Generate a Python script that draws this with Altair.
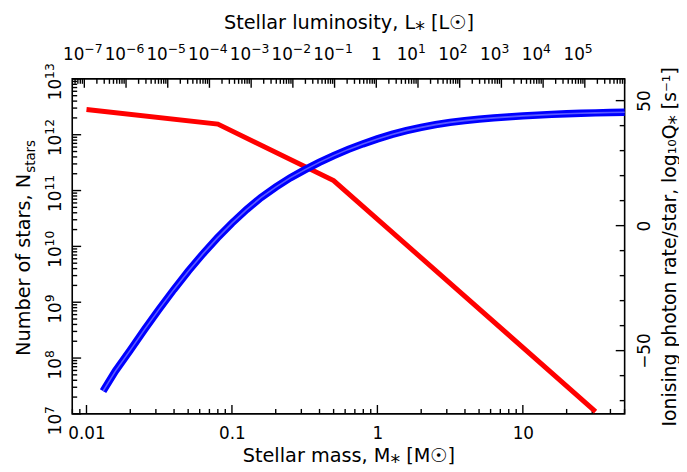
import math
import altair as alt
import pandas as pd

# ---------------- data ----------------
imf_mass = [0.01, 0.08, 0.5, 31.6]
imf_nstars = [2.82e12, 1.55e12, 1.51e11, 1.1e7]

q_mass = [0.013, 0.0158, 0.02, 0.0251, 0.0316, 0.0398, 0.0501, 0.0631, 0.0794,
          0.1, 0.126, 0.158, 0.2, 0.251, 0.316, 0.398, 0.501, 0.631, 0.794,
          1.0, 1.26, 1.58, 2.0, 2.51, 3.16, 3.98, 5.01, 6.31, 7.94,
          10.0, 12.6, 15.8, 20.0, 25.1, 31.6, 39.8, 50.1]
q_logq = [-66.2, -58.2, -49.8, -41.5, -33.4, -25.6, -18.2, -11.3, -4.9,
          1.0, 6.4, 11.2, 15.4, 19.1, 22.3, 25.3, 28.0, 30.5, 32.7,
          34.7, 36.5, 38.0, 39.3, 40.4, 41.3, 42.0, 42.6, 43.1, 43.5,
          43.9, 44.2, 44.5, 44.75, 44.95, 45.1, 45.25, 45.35]

mass_major = [0.01, 0.1, 1, 10]
nstar_exponents = [7, 8, 9, 10, 11, 12, 13]
lum_exponents = [-7, -6, -5, -4, -3, -2, -1, 0, 1, 2, 3, 4, 5]
q_major = [-50, 0, 50]
q_minor = [-70, -60, -40, -30, -20, -10, 10, 20, 30, 40]

left_title = ["Number of stars, N", "stars"]

M_DOMAIN = [0.00798, 50.1]
N_DOMAIN = [1e7, 1e13]
Q_DOMAIN = [-75.3, 58.7]
L_DOMAIN = [10 ** -7.29, 10 ** 5.955]

W, H = 559, 339
MAJ, MIN = 9, 5
FONT = "DejaVu Sans"
LFS = 17
EFS = 12.5
TFS = 19.5


def minors(lo, hi):
    out = []
    e = -9
    while 10 ** e <= hi:
        for k in range(2, 10):
            v = k * 10 ** e
            if lo < v < hi:
                out.append(v)
        e += 1
    return out


m_scale = alt.Scale(type="log", domain=M_DOMAIN, nice=False)
n_scale = alt.Scale(type="log", domain=N_DOMAIN, nice=False)
q_scale = alt.Scale(type="linear", domain=Q_DOMAIN, nice=False, zero=False)
l_scale = alt.Scale(type="log", domain=L_DOMAIN, nice=False)

ax_common = dict(domain=False, grid=False, ticks=False, labelFont=FONT,
                 labelFontSize=LFS, labelColor="black", titleFont=FONT,
                 titleFontSize=TFS, titleFontWeight="normal", titleColor="black")

red = alt.Chart(pd.DataFrame({"m": imf_mass, "n": imf_nstars})).mark_line(
    color="#ff0000", strokeWidth=5
).encode(
    x=alt.X("m:Q", scale=m_scale, axis=None),
    y=alt.Y("n:Q", scale=n_scale, axis=None),
)

qdf = pd.DataFrame({"m": q_mass, "q": q_logq})
blue = alt.Chart(qdf).mark_line(color="#0000ff", strokeWidth=7.5).encode(
    x=alt.X("m:Q", scale=m_scale, axis=None),
    y=alt.Y("q:Q", scale=q_scale, axis=None),
)
blue_in = alt.Chart(qdf).mark_line(color="#5a5aff", strokeWidth=1.6).encode(
    x=alt.X("m:Q", scale=m_scale, axis=None),
    y=alt.Y("q:Q", scale=q_scale, axis=None),
)

# pixel lengths expressed in each scale's data units (for inward tick segments)
LOG_M = math.log10(M_DOMAIN[1] / M_DOMAIN[0])
LOG_N = math.log10(N_DOMAIN[1] / N_DOMAIN[0])


def n_from_bottom(px):
    return N_DOMAIN[0] * 10 ** (px * LOG_N / H)


def n_from_top(px):
    return N_DOMAIN[1] * 10 ** (-px * LOG_N / H)


def m_from_left(px):
    return M_DOMAIN[0] * 10 ** (px * LOG_M / W)


def m_from_right(px):
    return M_DOMAIN[1] * 10 ** (-px * LOG_M / W)


def seg_layer(rows, xscale, yscale, xaxis=None, yaxis=None):
    df = pd.DataFrame(rows, columns=["id", "a", "b"])
    return alt.Chart(df).mark_line(color="#000000", strokeWidth=1.4).encode(
        x=alt.X("a:Q", scale=xscale, axis=xaxis),
        y=alt.Y("b:Q", scale=yscale, axis=yaxis),
        detail="id:N",
    )


def bottom_ticks(values, length, axis=None):
    rows = []
    for i, v in enumerate(values):
        rows += [(i, v, N_DOMAIN[0]), (i, v, n_from_bottom(length))]
    return seg_layer(rows, m_scale, n_scale, xaxis=axis)


def top_ticks(values, length, axis=None):
    rows = []
    for i, v in enumerate(values):
        rows += [(i, v, N_DOMAIN[1]), (i, v, n_from_top(length))]
    return seg_layer(rows, l_scale, n_scale, xaxis=axis)


def left_ticks(values, length):
    rows = []
    for i, v in enumerate(values):
        rows += [(i, M_DOMAIN[0], v), (i, m_from_left(length), v)]
    return seg_layer(rows, m_scale, n_scale)


def right_ticks(values, length, axis=None):
    rows = []
    for i, v in enumerate(values):
        rows += [(i, m_from_right(length), v), (i, M_DOMAIN[1], v)]
    return seg_layer(rows, m_scale, q_scale, yaxis=axis)


bot_major = bottom_ticks(mass_major, MAJ, alt.Axis(
    orient="bottom", values=mass_major, labelPadding=12,
    labelExpr="datum.value < 0.05 ? '0.01' : datum.value < 0.5 ? '0.1' : datum.value < 5 ? '1' : '10'",
    title="Stellar mass, M⁎ [M☉]", titlePadding=5, **ax_common))
bot_minor = bottom_ticks(minors(*M_DOMAIN), MIN)

n_major = [10.0 ** e for e in nstar_exponents]
left_major = left_ticks(n_major, MAJ)
left_minor = left_ticks(minors(*N_DOMAIN), MIN)

ax_right = {k: v for k, v in ax_common.items() if k != "titleFontSize"}
right_major = right_ticks(q_major, MAJ, alt.Axis(
    orient="right", values=q_major, labelAngle=-90, labelAlign="center",
    labelBaseline="top", labelPadding=12,
    title="Ionising photon rate/star, log₁₀Q⁎ [s⁻¹]", titleAngle=-90,
    titleBaseline="top", titlePadding=8, titleFontSize=19, **ax_right))
right_minor = right_ticks(q_minor, MIN)

l_major = [10.0 ** e for e in lum_exponents]
top_major = top_ticks(l_major, MAJ, alt.Axis(
    orient="top", values=l_major, labels=False,
    title="Stellar luminosity, L⁎ [L☉]", titlePadding=47, **ax_common))
top_minor = top_ticks(minors(*L_DOMAIN), MIN)


def power_labels(exps, scale, channel, pos, angle):
    df = pd.DataFrame({
        "v": [10.0 ** e for e in exps],
        "base": ["1" if e == 0 else "10" for e in exps],
        "exp": ["" if e == 0 else str(e).replace("-", "−") for e in exps],
    })
    if channel == "x":
        enc = dict(x=alt.X("v:Q", scale=scale, axis=None), y=alt.value(pos))
    else:
        enc = dict(y=alt.Y("v:Q", scale=scale, axis=None), x=alt.value(pos))
    base = alt.Chart(df).transform_filter(alt.datum.base == "10").mark_text(
        align="right", baseline="alphabetic", angle=angle, font=FONT,
        fontSize=LFS, color="black").encode(text="base:N", **enc)
    one = alt.Chart(df).transform_filter(alt.datum.base == "1").mark_text(
        align="center", baseline="alphabetic", angle=angle, font=FONT,
        fontSize=LFS, color="black").encode(text="base:N", **enc)
    sup = alt.Chart(df).transform_filter(alt.datum.base == "10").mark_text(
        align="left", baseline="alphabetic", angle=angle, font=FONT, dy=-7,
        fontSize=EFS, color="black").encode(text="exp:N", **enc)
    return [base, one, sup]


top_labels = power_labels(lum_exponents, l_scale, "x", -19, 0)
left_labels = power_labels(nstar_exponents, n_scale, "y", -11, 270)

lt_main = alt.Chart(pd.DataFrame({"t": [left_title[0]]})).mark_text(
    angle=270, align="right", baseline="alphabetic", font=FONT, fontSize=TFS,
    color="black").encode(text="t:N", x=alt.value(-43), y=alt.value(96))
lt_sub = alt.Chart(pd.DataFrame({"t": [left_title[1]]})).mark_text(
    angle=270, align="left", baseline="alphabetic", font=FONT, fontSize=13.5,
    dy=5, dx=1, color="black").encode(text="t:N", x=alt.value(-43), y=alt.value(96))

chart = alt.layer(
    bot_major, bot_minor, left_major, left_minor,
    right_major, right_minor, top_major, top_minor,
    red, blue, blue_in,
    *top_labels, *left_labels, lt_main, lt_sub,
).resolve_scale(x="independent", y="independent").resolve_axis(
    x="independent", y="independent"
).properties(
    width=W, height=H,
    autosize=alt.AutoSizeParams(type="none"),
    padding={"left": 65, "top": 69, "right": 55, "bottom": 50},
).configure_view(stroke="black", strokeWidth=1.6)

chart.save("out.html", embed_options={"renderer": "svg", "actions": False})
